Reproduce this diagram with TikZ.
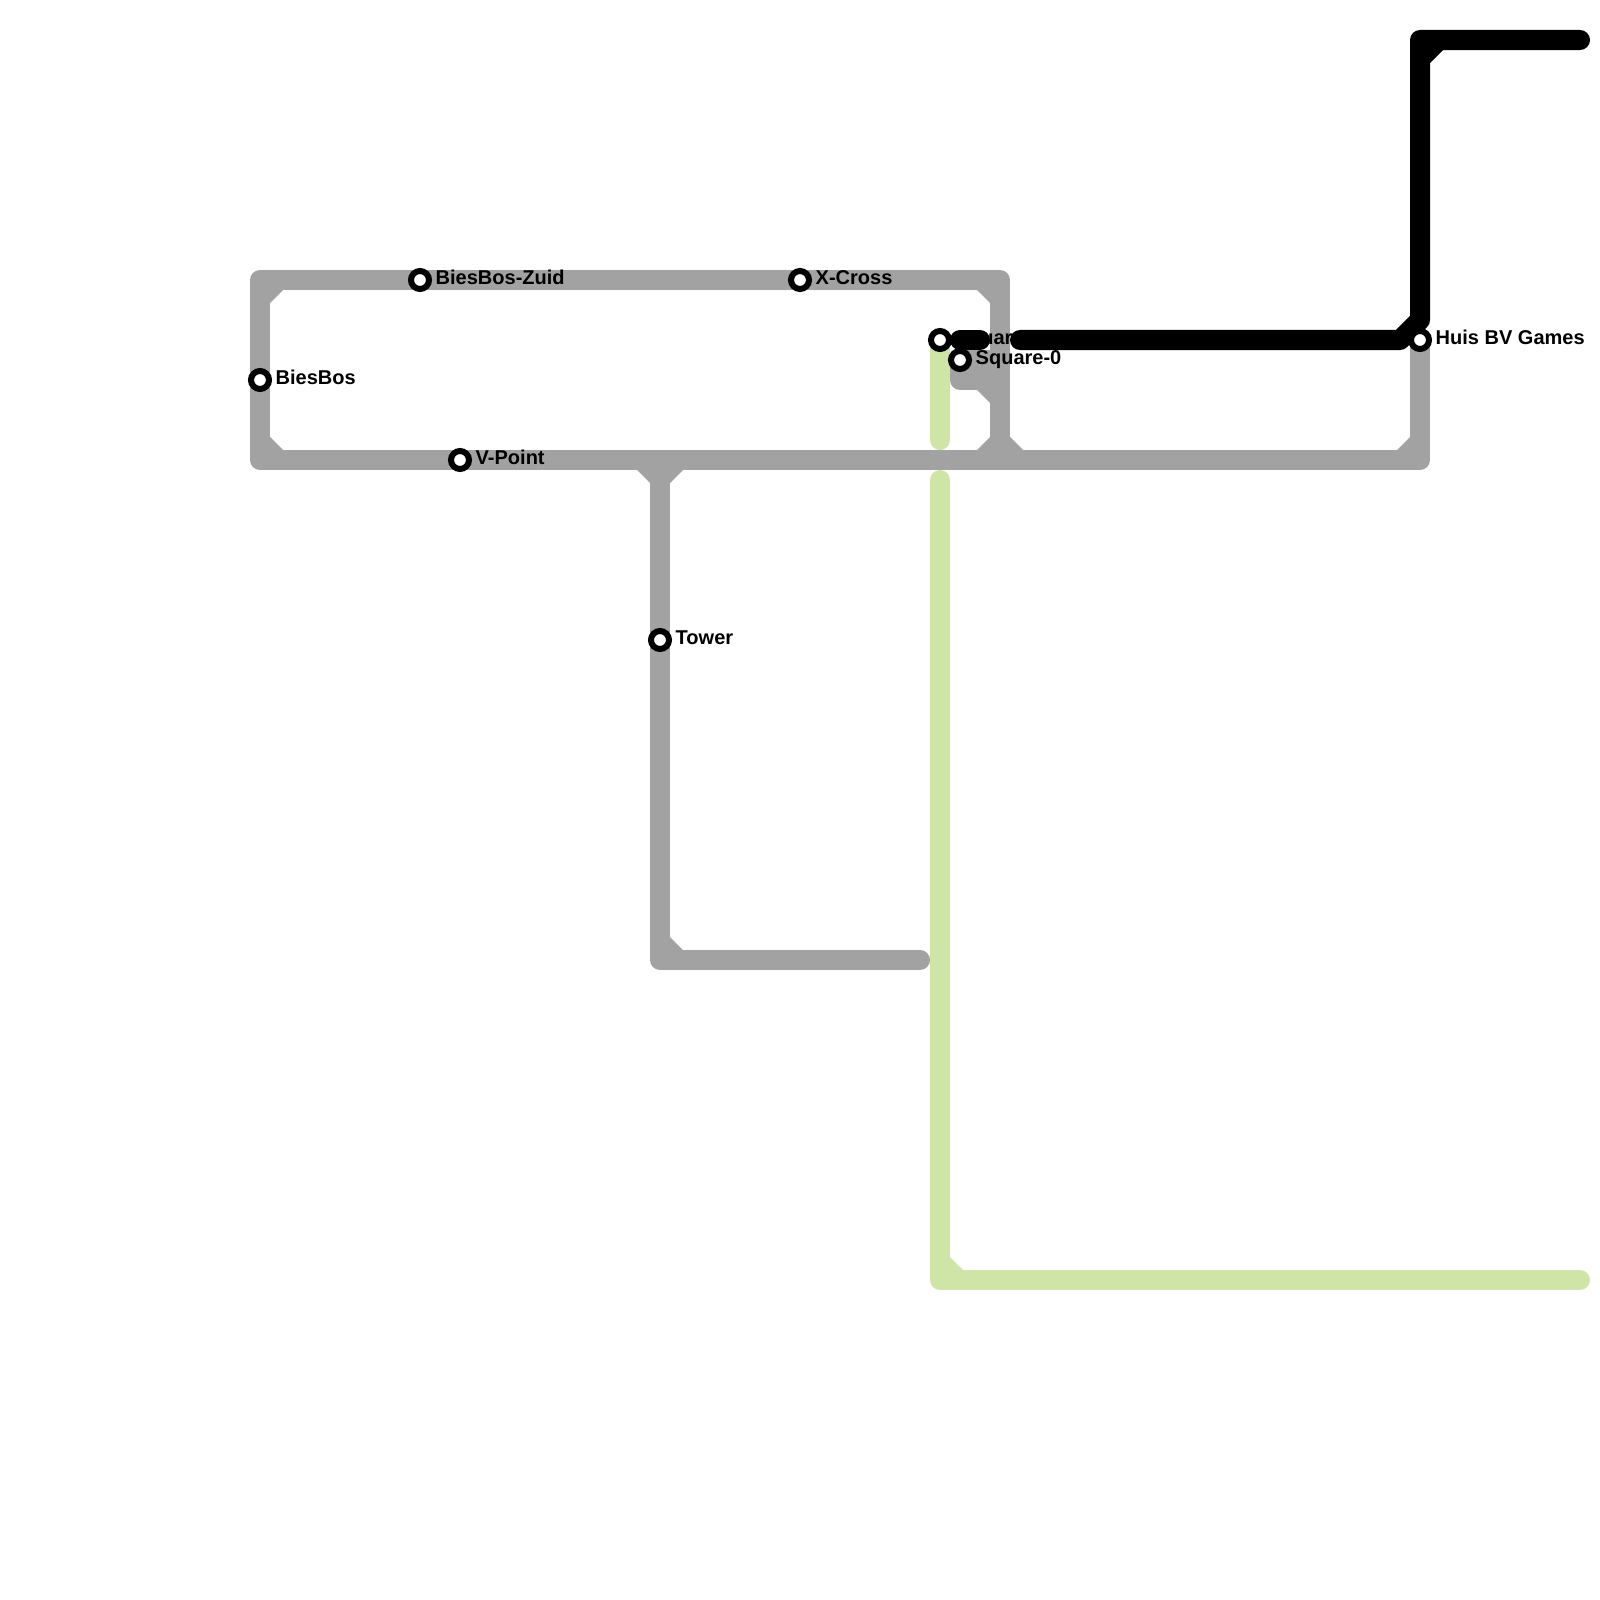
\documentclass[tikz,border=0pt]{standalone}
\usepackage{fontspec}
\setmainfont{Liberation Sans}
\usetikzlibrary{positioning}

\begin{document}
\begin{tikzpicture}[
    x=0.01cm, y=-0.01cm, % One unit is one pixel of the map, y runs down
    track/.style={line width=0.2cm, line cap=round, line join=round},
    stop/.style={circle, draw=black, fill=white, line width=0.06cm, minimum size=0.18cm, inner sep=0pt, outer sep=0pt},
    stoplabel/.style={font=\bfseries\fontsize{5.69pt}{6pt}\selectfont, inner sep=0pt, text height=0.13cm, text depth=0.03cm, yshift=0.005cm}
]
\useasboundingbox (0,0) rectangle (1600,1600);
\definecolor{grayline}{HTML}{A2A2A2}
\definecolor{greenline}{HTML}{CFE4A7}

% Station positions
\coordinate (pZuid) at (420,280);
\coordinate (pCross) at (800,280);
\coordinate (pBies) at (260,380);
\coordinate (pPoint) at (460,460);
\coordinate (pTower) at (660,640);
\coordinate (pHuis) at (1420,340);
\coordinate (pSquare) at (940,340);
\coordinate (pZero) at (960,360);

% Corners and line ends
\coordinate (topleft) at (260,280);
\coordinate (topright) at (1000,280);
\coordinate (botleft) at (260,460);
\coordinate (botright) at (1420,460);
\coordinate (tee) at (1000,460);
\coordinate (junction) at (1000,380);
\coordinate (upper) at (1000,360);
\coordinate (spurcorner) at (960,380);
\coordinate (stemtop) at (660,460);
\coordinate (stemcorner) at (660,960);
\coordinate (stemend) at (920,960);
\coordinate (greenstop) at (940,440);
\coordinate (greenstart) at (940,480);
\coordinate (greencorner) at (940,1280);
\coordinate (greenend) at (1580,1280);
\coordinate (stubstart) at (960,340);
\coordinate (stubend) at (980,340);
\coordinate (mainstart) at (1020,340);
\coordinate (mainend) at (1400,340);
\coordinate (risestart) at (1420,320);
\coordinate (blackcorner) at (1420,40);
\coordinate (blackend) at (1580,40);

% Green line
\draw[track, greenline] (pSquare) -- (greenstop);
\draw[track, greenline] (greenstart) -- (greencorner) -- (greenend);
\fill[greenline] (950,1257) -- (963,1270) -- (950,1270) -- cycle;

% Grey lines
\draw[track, grayline] (pHuis) -- (botright) -- (botleft) -- (topleft) -- (topright) -- (tee);
\draw[track, grayline] (pZero) -- (spurcorner) -- (junction) -- (upper) -- cycle;
\draw[track, grayline] (stemtop) -- (stemcorner) -- (stemend);

% Chamfers on the inner corners
\foreach \ax/\ay/\bx/\by/\cx/\cy in {
    270/303/283/290/270/290, 977/290/990/303/990/290, 270/437/283/450/270/450,
    977/390/990/403/990/390, 977/450/990/437/990/450, 1010/437/1023/450/1010/450,
    637/470/650/483/650/470, 683/470/670/483/670/470, 670/937/683/950/670/950,
    1397/450/1410/437/1410/450}
    \fill[grayline] (\ax,\ay) -- (\bx,\by) -- (\cx,\cy) -- cycle;

% This label lies under the black line
\node[stoplabel, right=0.15cm of pSquare] (lSquare) {Square};

% Black line
\draw[track, black] (stubstart) -- (stubend);
\draw[track, black] (mainstart) -- (mainend) -- (risestart) -- (blackcorner) -- (blackend);
\fill[black] (1443,50) -- (1430,63) -- (1430,50) -- cycle;

% Stations
\foreach \pos/\name in {pZuid/zuid, pCross/cross, pBies/bies, pPoint/point, pTower/tower, pHuis/huis, pSquare/square, pZero/zero}
    \node[stop] (\name) at (\pos) {};

% Labels
\node[stoplabel, right=0.15cm of pZuid] (lZuid) {BiesBos-Zuid};
\node[stoplabel, right=0.15cm of pCross] (lCross) {X-Cross};
\node[stoplabel, right=0.15cm of pBies] (lBies) {BiesBos};
\node[stoplabel, right=0.15cm of pPoint] (lPoint) {V-Point};
\node[stoplabel, right=0.15cm of pTower] (lTower) {Tower};
\node[stoplabel, right=0.15cm of pHuis] (lHuis) {Huis BV Games};
\node[stoplabel, right=0.15cm of pZero] (lZero) {Square-0};

\end{tikzpicture}
\end{document}
